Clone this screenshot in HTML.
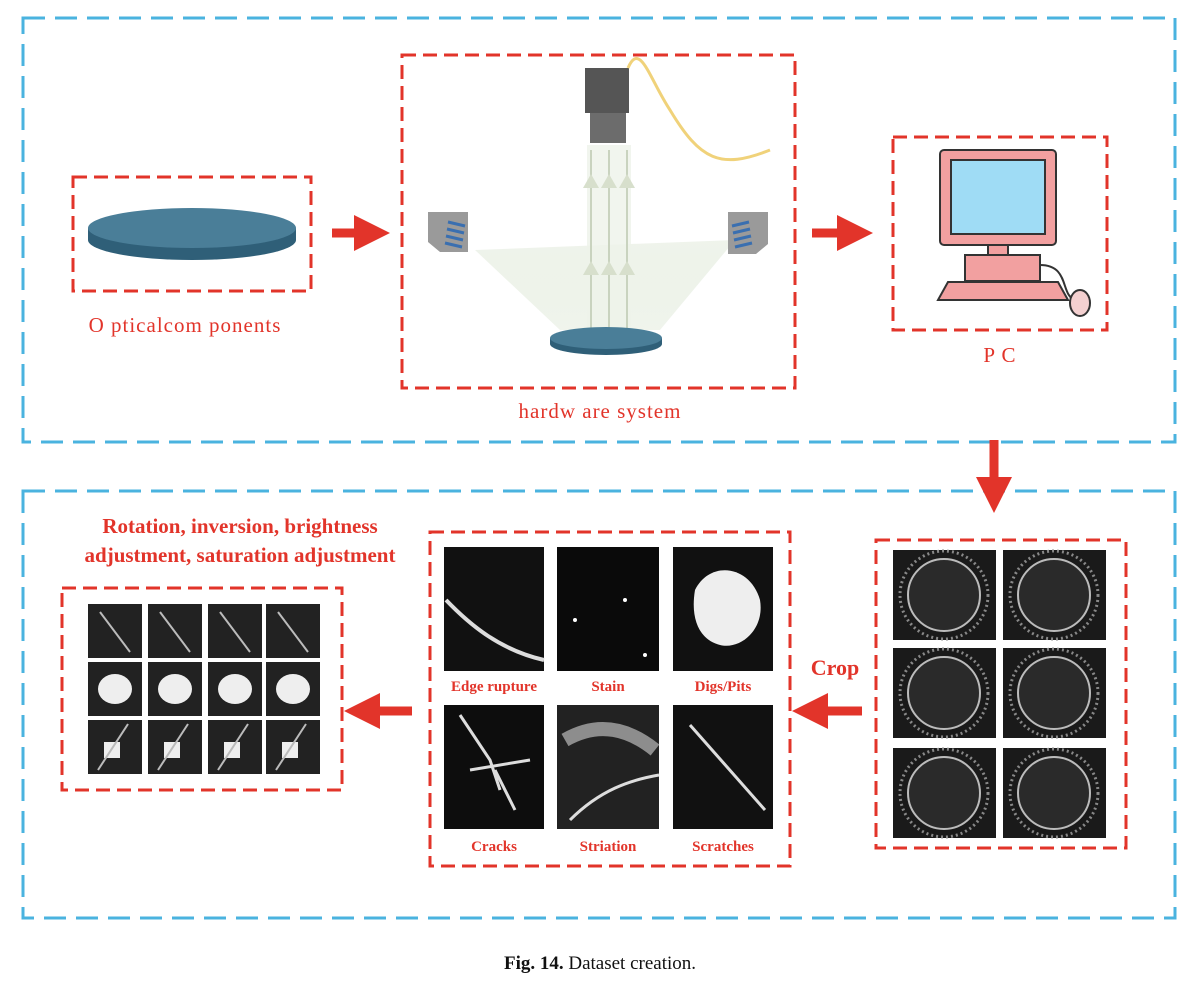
<!DOCTYPE html>
<html><head><meta charset="utf-8"><style>
html,body{margin:0;padding:0;background:#fff}
svg{display:block}
.lbl{font-family:"Liberation Serif",serif;fill:#e2342a;font-size:21px;letter-spacing:1px}
.b{font-family:"Liberation Serif",serif;fill:#e2342a;font-weight:bold}
</style></head><body>
<svg width="1200" height="987" viewBox="0 0 1200 987">
<defs>
<marker id="ah" markerWidth="4" markerHeight="4" refX="2" refY="2" orient="auto" markerUnits="strokeWidth"><path d="M0,0 L4,2 L0,4 z" fill="#e2342a"/></marker>
<linearGradient id="beam" x1="0" y1="0" x2="0" y2="1"><stop offset="0" stop-color="#dfe8d8" stop-opacity="0.5"/><stop offset="1" stop-color="#eef3ea" stop-opacity="0.9"/></linearGradient>
</defs>
<rect x="23" y="18" width="1152" height="424" fill="none" stroke="#4ab3df" stroke-width="3" stroke-dasharray="22,10"/>
<rect x="23" y="491" width="1152" height="427" fill="none" stroke="#4ab3df" stroke-width="3" stroke-dasharray="22,10"/>

<g>
<rect x="73" y="177" width="238" height="114" fill="none" stroke="#e2342a" stroke-width="3" stroke-dasharray="14,7"/>
<path d="M88,228 v12 a104,20 0 0 0 208,0 v-12 z" fill="#2f5f78"/>
<ellipse cx="192" cy="228" rx="104" ry="20" fill="#4a7e98"/>
<text class="lbl" x="185" y="332" text-anchor="middle">O pticalcom ponents</text>
</g>
<line x1="332" y1="233" x2="372" y2="233" stroke="#e2342a" stroke-width="9" marker-end="url(#ah)"/>

<g>
<rect x="402" y="55" width="393" height="333" fill="none" stroke="#e2342a" stroke-width="3" stroke-dasharray="14,7"/>
<polygon points="475,250 560,330 660,330 735,240" fill="url(#beam)"/>
<rect x="587" y="145" width="44" height="190" fill="#eef3ea" opacity="0.8"/>
<g stroke="#c9d3bf" stroke-width="2"><line x1="591" y1="150" x2="591" y2="330"/><line x1="609" y1="150" x2="609" y2="330"/><line x1="627" y1="150" x2="627" y2="330"/></g>
<g fill="#d7dfcc"><path d="M583,188 l8,-14 l8,14z"/><path d="M601,188 l8,-14 l8,14z"/><path d="M619,188 l8,-14 l8,14z"/><path d="M583,275 l8,-14 l8,14z"/><path d="M601,275 l8,-14 l8,14z"/><path d="M619,275 l8,-14 l8,14z"/></g>
<rect x="585" y="68" width="44" height="45" fill="#555"/>
<rect x="590" y="113" width="36" height="30" fill="#6c6c6c"/>
<path d="M628,68 C640,40 650,80 670,110 C700,160 720,170 770,150" fill="none" stroke="#f0d27a" stroke-width="3"/>
<path d="M428,212 h40 v40 h-28 l-12,-10z" fill="#9a9a9a"/><g stroke="#3a6fb0" stroke-width="3"><line x1="448" y1="222" x2="465" y2="226"/><line x1="447" y1="229" x2="464" y2="233"/><line x1="446" y1="236" x2="463" y2="240"/><line x1="445" y1="243" x2="462" y2="247"/></g>
<path d="M728,212 h40 v32 l-12,10 h-28z" fill="#9a9a9a"/><g stroke="#3a6fb0" stroke-width="3"><line x1="732" y1="226" x2="749" y2="222"/><line x1="733" y1="233" x2="750" y2="229"/><line x1="734" y1="240" x2="751" y2="236"/><line x1="735" y1="247" x2="752" y2="243"/></g>
<path d="M550,338 v6 a56,11 0 0 0 112,0 v-6z" fill="#2f5f78"/>
<ellipse cx="606" cy="338" rx="56" ry="11" fill="#4a7e98"/>
<text class="lbl" x="600" y="418" text-anchor="middle">hardw are system</text>
</g>
<line x1="812" y1="233" x2="855" y2="233" stroke="#e2342a" stroke-width="9" marker-end="url(#ah)"/>

<g>
<rect x="893" y="137" width="214" height="193" fill="none" stroke="#e2342a" stroke-width="3" stroke-dasharray="14,7"/>
<rect x="940" y="150" width="116" height="95" rx="4" fill="#f2a0a0" stroke="#333" stroke-width="2"/>
<rect x="951" y="160" width="94" height="74" fill="#9fdcf5" stroke="#333" stroke-width="2"/>
<rect x="988" y="245" width="20" height="10" fill="#f2a0a0" stroke="#333" stroke-width="2"/>
<rect x="965" y="255" width="75" height="26" fill="#f2a0a0" stroke="#333" stroke-width="2"/>
<path d="M938,300 l10,-18 h110 l10,18z" fill="#f2a0a0" stroke="#333" stroke-width="2"/>
<path d="M1040,265 C1070,265 1060,295 1075,300" fill="none" stroke="#333" stroke-width="2"/>
<ellipse cx="1080" cy="303" rx="10" ry="13" fill="#f4d0d0" stroke="#333" stroke-width="2"/>
<text class="lbl" x="1000" y="362" text-anchor="middle">P C</text>
</g>
<line x1="994" y1="440" x2="994" y2="495" stroke="#e2342a" stroke-width="9" marker-end="url(#ah)"/>

<g>
<rect x="876" y="540" width="250" height="308" fill="none" stroke="#e2342a" stroke-width="3" stroke-dasharray="14,7"/>
<g id="rawimgs"></g>
</g>
<text class="b" x="835" y="675" font-size="22" text-anchor="middle">Crop</text>
<line x1="862" y1="711" x2="810" y2="711" stroke="#e2342a" stroke-width="9" marker-end="url(#ah)"/>

<g>
<rect x="430" y="532" width="360" height="334" fill="none" stroke="#e2342a" stroke-width="3" stroke-dasharray="14,7"/>
<rect x="444" y="547" width="100" height="124" fill="#111"/><path d="M446,600 C470,625 500,650 544,660" stroke="#ddd" stroke-width="4" fill="none"/>
<rect x="557" y="547" width="102" height="124" fill="#0a0a0a"/><circle cx="575" cy="620" r="2" fill="#fff"/><circle cx="625" cy="600" r="2" fill="#fff"/><circle cx="645" cy="655" r="2" fill="#fff"/>
<rect x="673" y="547" width="100" height="124" fill="#111"/><path d="M695,590 C710,560 750,565 760,600 C765,630 740,650 720,645 C700,640 690,620 695,590z" fill="#eee"/>
<text class="b" x="494" y="691" font-size="15" text-anchor="middle">Edge rupture</text>
<text class="b" x="608" y="691" font-size="15" text-anchor="middle">Stain</text>
<text class="b" x="723" y="691" font-size="15" text-anchor="middle">Digs/Pits</text>
<rect x="444" y="705" width="100" height="124" fill="#0d0d0d"/><path d="M460,715 L490,760 L500,790 M470,770 L530,760 M495,770 L515,810" stroke="#ddd" stroke-width="3" fill="none"/>
<rect x="557" y="705" width="102" height="124" fill="#222"/><path d="M565,740 C600,720 630,730 655,750" stroke="#bbb" stroke-width="14" fill="none" opacity="0.7"/><path d="M570,820 C600,790 630,780 659,775" stroke="#ddd" stroke-width="3" fill="none"/>
<rect x="673" y="705" width="100" height="124" fill="#111"/><path d="M690,725 L765,810" stroke="#ddd" stroke-width="3"/>
<text class="b" x="494" y="851" font-size="15" text-anchor="middle">Cracks</text>
<text class="b" x="608" y="851" font-size="15" text-anchor="middle">Striation</text>
<text class="b" x="723" y="851" font-size="15" text-anchor="middle">Scratches</text>
</g>
<line x1="412" y1="711" x2="362" y2="711" stroke="#e2342a" stroke-width="9" marker-end="url(#ah)"/>

<text class="b" x="240" y="533" font-size="21" text-anchor="middle">Rotation, inversion, brightness</text>
<text class="b" x="240" y="562" font-size="21" text-anchor="middle">adjustment, saturation adjustment</text>
<g>
<rect x="62" y="588" width="280" height="202" fill="none" stroke="#e2342a" stroke-width="3" stroke-dasharray="14,7"/>
<g id="augimgs"></g>
</g>

<text x="600" y="969" text-anchor="middle" font-family="Liberation Serif,serif" font-size="19" fill="#111"><tspan font-weight="bold">Fig. 14.</tspan>  Dataset creation.</text>
</svg>
<script>
const NS='http://www.w3.org/2000/svg';
function mk(t,a,p){const e=document.createElementNS(NS,t);for(const k in a)e.setAttribute(k,a[k]);p.appendChild(e);return e;}
const raw=document.getElementById('rawimgs');
const rx=[893,1003], ry=[550,648,748];
ry.forEach(y=>rx.forEach(x=>{
 mk('rect',{x:x,y:y,width:103,height:90,fill:'#1a1a1a'},raw);
 mk('circle',{cx:x+51,cy:y+45,r:44,fill:'none',stroke:'#888','stroke-width':3,'stroke-dasharray':'2,3'},raw);
 mk('circle',{cx:x+51,cy:y+45,r:36,fill:'#2a2a2a',stroke:'#bbb','stroke-width':2},raw);
}));
const aug=document.getElementById('augimgs');
const ax=[88,148,208,266], ay=[604,662,720];
ay.forEach((y,i)=>ax.forEach(x=>{
 mk('rect',{x:x,y:y,width:54,height:54,fill:'#222'},aug);
 if(i==0) mk('line',{x1:x+12,y1:y+8,x2:x+42,y2:y+48,stroke:'#bbb','stroke-width':2},aug);
 if(i==1) mk('ellipse',{cx:x+27,cy:y+27,rx:17,ry:15,fill:'#eee'},aug);
 if(i==2){mk('rect',{x:x+16,y:y+22,width:16,height:16,fill:'#eee'},aug);mk('line',{x1:x+10,y1:y+50,x2:x+40,y2:y+4,stroke:'#bbb','stroke-width':2},aug);}
}));
</script>
</body></html>
